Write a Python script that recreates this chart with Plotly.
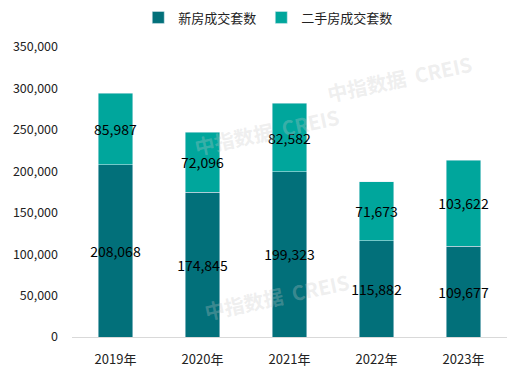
import plotly.graph_objects as go

years = ["2019年", "2020年", "2021年", "2022年", "2023年"]
new_homes = [208068, 174845, 199323, 115882, 109677]
second_hand = [85987, 72096, 82582, 71673, 103622]
series_names = ["新房成交套数", "二手房成交套数"]
y_ticks = [0, 50000, 100000, 150000, 200000, 250000, 300000, 350000]

dark = "#02707a"
light = "#00a69c"
font_family = "Noto Sans CJK SC, Microsoft YaHei, sans-serif"

fig = go.Figure()
fig.add_trace(go.Bar(
    x=years, y=new_homes, name=series_names[0], marker_color=dark,
    text=[f"{v:,}" for v in new_homes], textposition="inside", textangle=0,
    insidetextanchor="middle", constraintext="none",
    textfont=dict(color="black", size=14, family=font_family),
    width=0.4, hoverinfo="skip"))
fig.add_trace(go.Bar(
    x=years, y=second_hand, name=series_names[1], marker_color=light,
    text=[f"{v:,}" for v in second_hand], textposition="inside", textangle=0,
    insidetextanchor="middle", constraintext="none",
    textfont=dict(color="black", size=14, family=font_family),
    width=0.4, hoverinfo="skip"))

# faint watermarks
for (x, y) in [(0.27, 0.82), (0.93, 1.0), (0.47, 0.03)]:
    fig.add_annotation(text="中指数据  CREIS", xref="paper", yref="paper", x=x, y=y,
                       showarrow=False, textangle=-12,
                       font=dict(size=20, color="rgba(200,200,200,0.3)", family=font_family, weight="bold"))

fig.update_layout(
    barmode="stack", width=526, height=378,
    margin=dict(l=72, r=19, t=47, b=41, autoexpand=False),
    paper_bgcolor="white", plot_bgcolor="white",
    font=dict(family=font_family, size=12, color="#222"),
    legend=dict(orientation="h", x=0.51, xref="container", xanchor="center",
                y=1.05, yanchor="bottom",
                traceorder="normal", font=dict(size=13)),
    showlegend=True,
)
fig.update_xaxes(showline=True, linecolor="#d9d9d9", linewidth=1, ticks="",
                 tickfont=dict(size=13), ticklabelstandoff=10, automargin=False)
fig.update_yaxes(range=[0, 350000], tickvals=y_ticks, tickformat=",", showgrid=False,
                 zeroline=False, showline=False, tickfont=dict(size=12.5), ticklabelstandoff=13,
                 automargin=False)

fig.write_html("out.html", config={"displayModeBar": False},
               post_script="document.body.style.margin='0';")
